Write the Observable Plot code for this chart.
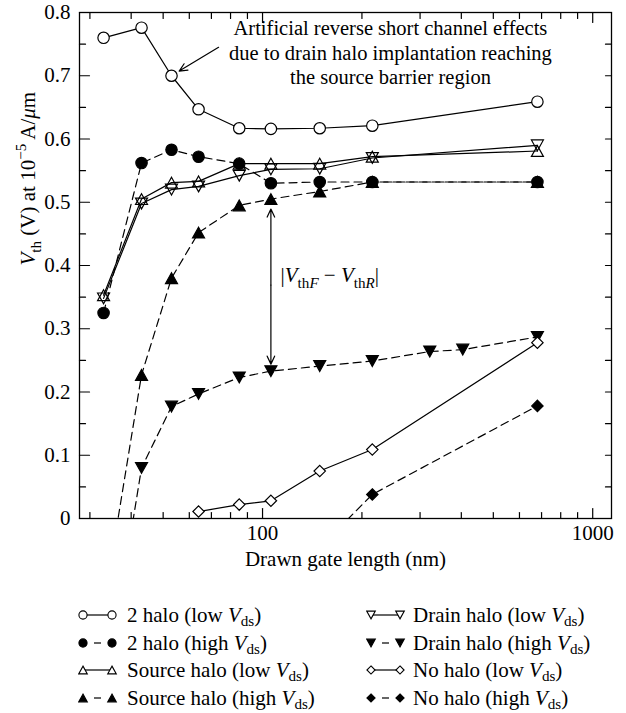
<!DOCTYPE html>
<html>
<head>
<meta charset="utf-8">
<script src="https://cdn.jsdelivr.net/npm/d3@7"></script>
<script src="https://cdn.jsdelivr.net/npm/@observablehq/plot@0.6"></script>
<style>
  body { margin: 0; background: #fff; }
  #wrap { position: relative; width: 626px; height: 713px; font-family: "Liberation Serif", "Times New Roman", serif; color: #000; }
  #wrap svg.chart { position: absolute; left: 0; top: 0; }
  .row { position: absolute; height: 28px; line-height: 28px; font-size: 21px; white-space: nowrap; }
  .row svg { position: absolute; left: 0; top: 0; }
  .row span { position: absolute; top: 0; }
  .row sub { font-size: 0.72em; vertical-align: -0.28em; line-height: 0; }
</style>
</head>
<body>
<div id="wrap"></div>
<script>
// Drawn gate length (nm) of the measured devices
const lengths = [33, 43, 53, 64, 85, 106, 149, 215, 680];
const drainHighLengths = [33, 43, 53, 64, 85, 106, 149, 215, 321, 404, 680];
const noHaloLowLengths = [64, 85, 106, 149, 215, 680];
const noHaloHighLengths = [149, 215, 680];

// Threshold voltage Vth (V) at 1e-5 A/um
const twoHaloLow     = [0.760, 0.776, 0.700, 0.647, 0.617, 0.616, 0.617, 0.621, 0.659];
const twoHaloHigh    = [0.325, 0.562, 0.583, 0.572, 0.561, 0.530, 0.532, 0.532, 0.532];
const sourceHaloLow  = [0.353, 0.505, 0.531, 0.533, 0.561, 0.561, 0.561, 0.572, 0.581];
const sourceHaloHigh = [-0.14, 0.227, 0.380, 0.452, 0.495, 0.505, 0.517, 0.532, 0.532];
const drainHaloLow   = [0.348, 0.498, 0.520, 0.525, 0.542, 0.552, 0.553, 0.570, 0.590];
const drainHaloHigh  = [-0.29, 0.080, 0.177, 0.197, 0.223, 0.233, 0.241, 0.249, 0.264, 0.267, 0.287];
const noHaloLow      = [0.011, 0.022, 0.028, 0.075, 0.109, 0.278];
const noHaloHigh     = [-0.046, 0.038, 0.178];

// Axis ticks
const xMajorTicks = [100, 1000];
const xMinorTicks = [30, 40, 50, 60, 70, 80, 90, 200, 300, 400, 500, 600, 700, 800, 900];
const yMajorTicks = [0, 0.1, 0.2, 0.3, 0.4, 0.5, 0.6, 0.7, 0.8];
const yMinorTicks = [0.05, 0.15, 0.25, 0.35, 0.45, 0.55, 0.65, 0.75];

const xDomain = [27.9, 1140];
const yDomain = [0, 0.8];

// Marker shapes (size is the symbol area, as d3.symbol passes it)
const radius = (size) => Math.sqrt(size / Math.PI);
const circleSym = { draw(ctx, size) { const r = radius(size) * 0.95; ctx.moveTo(r, 0); ctx.arc(0, 0, r, 0, 2 * Math.PI); } };
const triUp = { draw(ctx, size) { const r = radius(size); const w = r, h = r * 0.9; ctx.moveTo(0, -h); ctx.lineTo(w, h); ctx.lineTo(-w, h); ctx.closePath(); } };
const triDown = { draw(ctx, size) { const r = radius(size); const w = r, h = r * 0.9; ctx.moveTo(0, h); ctx.lineTo(w, -h); ctx.lineTo(-w, -h); ctx.closePath(); } };
const diamondSym = { draw(ctx, size) { const r = radius(size) * 0.95; ctx.moveTo(0, -r); ctx.lineTo(r, 0); ctx.lineTo(0, r); ctx.lineTo(-r, 0); ctx.closePath(); } };
const tickShape = { draw(ctx, l) { ctx.moveTo(0, 0); ctx.lineTo(0, -l); } };

const series = [
  { label: "2 halo", bias: "low", xs: lengths, ys: twoHaloLow, symbol: circleSym, filled: false, dashed: false, col: 0, row: 0 },
  { label: "2 halo", bias: "high", xs: lengths, ys: twoHaloHigh, symbol: circleSym, filled: true, dashed: true, col: 0, row: 1 },
  { label: "Source halo", bias: "low", xs: lengths, ys: sourceHaloLow, symbol: triUp, filled: false, dashed: false, col: 0, row: 2 },
  { label: "Source halo", bias: "high", xs: lengths, ys: sourceHaloHigh, symbol: triUp, filled: true, dashed: true, col: 0, row: 3 },
  { label: "Drain halo", bias: "low", xs: lengths, ys: drainHaloLow, symbol: triDown, filled: false, dashed: false, col: 1, row: 0 },
  { label: "Drain halo", bias: "high", xs: drainHighLengths, ys: drainHaloHigh, symbol: triDown, filled: true, dashed: true, col: 1, row: 1 },
  { label: "No halo", bias: "low", xs: noHaloLowLengths, ys: noHaloLow, symbol: diamondSym, filled: false, dashed: false, col: 1, row: 2 },
  { label: "No halo", bias: "high", xs: noHaloHighLengths, ys: noHaloHigh, symbol: diamondSym, filled: true, dashed: true, col: 1, row: 3 }
];
series.forEach(s => { s.points = s.xs.map((L, i) => ({ L, v: s.ys[i] })); });

const openFill = s => s.filled ? "black" : (s.symbol === triUp || s.symbol === triDown ? "none" : "white");
const dash = "8,5";

// open triangles first, filled circles over them
const dotOrder = [2, 4, 3, 5, 0, 1, 6, 7];

const lineMarks = series.map(s => Plot.line(s.points, {
  x: "L", y: "v", stroke: "black", strokeWidth: 1.2,
  strokeDasharray: s.dashed ? dash : undefined, clip: true
}));
const dotMarks = dotOrder.map(k => {
  const s = series[k];
  return Plot.dot(s.points.filter(d => d.v >= 0), {
    x: "L", y: "v", r: 6, symbol: s.symbol,
    fill: openFill(s), stroke: "black", strokeWidth: 1.2
  });
});

const tick = (data, opts) => Plot.vector(data, { shape: tickShape, anchor: "start", stroke: "black", strokeWidth: 1.2, ...opts });
const tickMarks = [
  tick(xMajorTicks, { x: d => d, y: () => yDomain[0], length: 10, rotate: 0 }),
  tick(xMinorTicks, { x: d => d, y: () => yDomain[0], length: 6, rotate: 0 }),
  tick(xMajorTicks, { x: d => d, y: () => yDomain[1], length: 10, rotate: 180 }),
  tick(xMinorTicks, { x: d => d, y: () => yDomain[1], length: 6, rotate: 180 }),
  tick(yMajorTicks, { x: () => xDomain[0], y: d => d, length: 10, rotate: 90 }),
  tick(yMinorTicks, { x: () => xDomain[0], y: d => d, length: 6, rotate: 90 }),
  tick(yMajorTicks.concat(yMinorTicks), { x: () => xDomain[1], y: d => d, length: 6, rotate: -90 })
];

// Annotations
const noteText = "Artificial reverse short channel effects\ndue to drain halo implantation reaching\nthe source barrier region";
const gapX = lengths[5];
const gapTop = sourceHaloHigh[5];
const gapBottom = drainHaloHigh[5];
const gapMid = (gapTop + gapBottom) / 2;

const yLabelPlain = "Vth (V) at 10−5 A/μm";
const gapLabelPlain = "|VthF − VthR|";

const chart = Plot.plot({
  width: 626,
  height: 590,
  marginLeft: 79,
  marginRight: 15,
  marginTop: 12,
  marginBottom: 72,
  style: { fontFamily: "'Liberation Serif', 'Times New Roman', serif", fontSize: "21px", color: "black", background: "white" },
  x: { type: "log", domain: xDomain },
  y: { domain: yDomain },
  marks: [
    ...lineMarks,
    ...dotMarks,
    Plot.arrow([0], {
      x1: () => 73.6, y1: () => 0.745, x2: () => lengths[2], y2: () => twoHaloLow[2],
      insetEnd: 9, headLength: 11, headAngle: 50, stroke: "black", strokeWidth: 1.2
    }),
    Plot.arrow([0], {
      x1: () => gapX, y1: () => gapMid, x2: () => gapX, y2: () => gapTop,
      insetEnd: 10, headLength: 11, headAngle: 50, stroke: "black", strokeWidth: 1.2
    }),
    Plot.arrow([0], {
      x1: () => gapX, y1: () => gapMid, x2: () => gapX, y2: () => gapBottom,
      insetEnd: 7, headLength: 11, headAngle: 50, stroke: "black", strokeWidth: 1.2
    }),
    Plot.text([0], {
      x: () => 244, y: () => 0.738, text: () => noteText,
      lineHeight: 1.2, fontSize: 20.5, textAnchor: "middle", fill: "black"
    }),
    Plot.text([0], {
      x: () => 113.4, y: () => 0.384, text: () => gapLabelPlain,
      fontSize: 21, textAnchor: "start", fill: "black"
    }),
    ...tickMarks,
    Plot.frame({ stroke: "black", strokeWidth: 1.3 }),
    Plot.axisX(xMajorTicks, { tickSize: 0, tickPadding: 7, tickFormat: d => String(d), fontSize: 21, label: null }),
    Plot.axisY(yMajorTicks, { tickSize: 0, tickPadding: 9, tickFormat: d => d === 0 ? "0" : d.toFixed(1), fontSize: 21, label: null }),
    Plot.text([0], { frameAnchor: "bottom", dy: 47, text: () => "Drawn gate length (nm)", fontSize: 21, fill: "black" }),
    Plot.text([0], { frameAnchor: "left", dx: -51, rotate: -90, text: () => yLabelPlain, fontSize: 21, fill: "black" })
  ]
});
chart.classList.add("chart");
document.getElementById("wrap").appendChild(chart);

// Rebuild texts that carry sub/superscripts and italic symbols
function richText(el, parts, size) {
  el.textContent = "";
  let shift = 0;
  for (const p of parts) {
    const ts = document.createElementNS("http://www.w3.org/2000/svg", "tspan");
    const target = p.sub ? 0.28 * size : p.sup ? -0.42 * size : 0;
    if (target !== shift) ts.setAttribute("dy", target - shift);
    shift = target;
    if (p.sub || p.sup) ts.setAttribute("font-size", 0.72 * size);
    if (p.it) ts.setAttribute("font-style", "italic");
    ts.textContent = p.t;
    el.appendChild(ts);
  }
}
d3.select(chart).selectAll("text").each(function () {
  if (this.textContent === yLabelPlain) {
    richText(this, [
      { t: "V", it: true }, { t: "th", sub: true }, { t: " (V) at 10" }, { t: "−5", sup: true },
      { t: " A/" }, { t: "μ", it: true }, { t: "m" }
    ], 21);
  } else if (this.textContent === gapLabelPlain) {
    richText(this, [
      { t: "|" }, { t: "V", it: true }, { t: "th", sub: true }, { t: "F", sub: true, it: true },
      { t: " − " }, { t: "V", it: true }, { t: "th", sub: true }, { t: "R", sub: true, it: true }, { t: "|" }
    ], 21);
  }
});

// Legend: two columns of four entries
const legendTop = 601, rowStep = 27.5;
const colSymbolLeft = [78, 366], colTextLeft = [127, 413];
const wrap = d3.select("#wrap");
series.forEach(s => {
  const row = wrap.append("div").attr("class", "row")
    .style("left", colSymbolLeft[s.col] + "px")
    .style("top", (legendTop + s.row * rowStep) + "px")
    .style("width", "300px");
  const svg = row.append("svg").attr("width", 40).attr("height", 28);
  const xa = 5, xb = 34, cy = 14;
  if (s.dashed) svg.append("line").attr("x1", 16).attr("x2", 23).attr("y1", cy).attr("y2", cy).attr("stroke", "black").attr("stroke-width", 1.2);
  else svg.append("line").attr("x1", xa).attr("x2", xb).attr("y1", cy).attr("y2", cy).attr("stroke", "black").attr("stroke-width", 1.2);
  [xa, xb].forEach(cx => {
    const p = d3.path();
    s.symbol.draw(p, Math.PI * 4.3 * 4.3);
    svg.append("path").attr("d", p.toString()).attr("transform", `translate(${cx},${cy})`)
      .attr("fill", s.filled ? "black" : "white").attr("stroke", "black").attr("stroke-width", 1.1);
  });
  row.append("span").style("left", (colTextLeft[s.col] - colSymbolLeft[s.col]) + "px")
    .html(`${s.label} (${s.bias} <i>V</i><sub>ds</sub>)`);
});
</script>
</body>
</html>
